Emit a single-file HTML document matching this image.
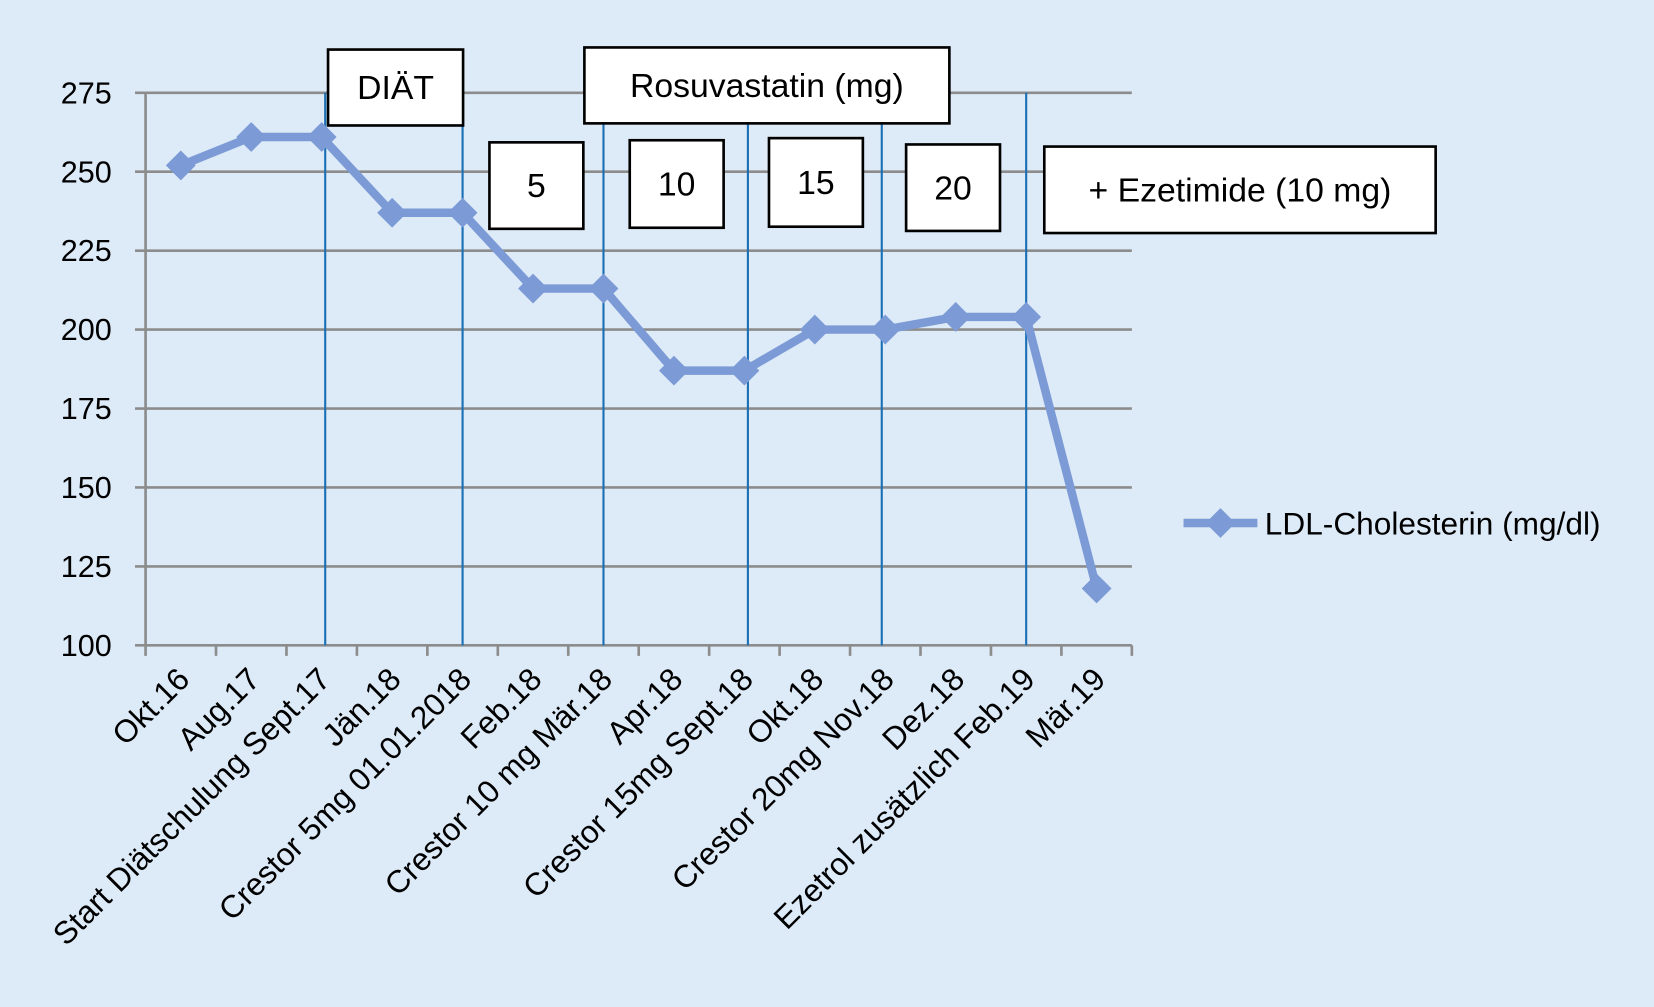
<!DOCTYPE html>
<html><head><meta charset="utf-8"><style>
html,body{margin:0;padding:0;background:#ddeaf7;}
svg{display:block;font-family:"Liberation Sans",sans-serif;}
</style></head><body>
<svg id="chart" width="1654" height="1007" viewBox="0 0 1568 955" preserveAspectRatio="none">
<rect x="0" y="0" width="1568" height="955" fill="#ddeaf7"/>
<g id="grid"></g><g id="vlines"></g><g id="series"></g><g id="axes"></g><g id="boxes"></g>
<g>
<line x1="1122" y1="496" x2="1192" y2="496" stroke="#7b9ad6" stroke-width="8"/>
<rect x="1147" y="486" width="20" height="20" fill="#7b9ad6" transform="rotate(45 1157 496)"/>
<text x="1199" y="507" font-size="30" fill="#000">LDL-Cholesterin (mg/dl)</text>
</g>
</svg>
<script>
const categories=["Okt.16","Aug.17","Start Diätschulung Sept.17","Jän.18","Crestor 5mg 01.01.2018","Feb.18","Crestor 10 mg Mär.18","Apr.18","Crestor 15mg Sept.18","Okt.18","Crestor 20mg Nov.18","Dez.18","Ezetrol zusätzlich Feb.19","Mär.19"];
const ldlValues=[252,261,261,237,237,213,213,187,187,200,200,204,204,118];
const yTicks=[100,125,150,175,200,225,250,275];
const markerLines=[2.55,4.5,6.5,8.55,10.45,12.5];
const boxLabels=["DIÄT","Rosuvastatin (mg)","5","10","15","20","+ Ezetimide (10 mg)"];
const NS="http://www.w3.org/2000/svg";
const L=138,R=1073,T=88,B=612,n=categories.length,step=(R-L)/n;
const x=i=>L+step*(i+0.5);
const y=v=>B-(v-100)/(275-100)*(B-T);
function mk(tag,attrs,parent,txt){const e=document.createElementNS(NS,tag);for(const k in attrs)e.setAttribute(k,attrs[k]);if(txt!=null)e.textContent=txt;document.getElementById(parent).appendChild(e);return e;}
yTicks.forEach(v=>{
 const g=mk('line',{x1:128,x2:R,y1:y(v),y2:y(v),stroke:'#8c8c8c','stroke-width':2.5},'grid');
 
 
 const t=mk('text',{x:106,y:y(v)+10,'text-anchor':'end','font-size':29},'axes',String(v));
 
 
});
const ax=mk('line',{x1:L,x2:L,y1:T,y2:B,stroke:'#8c8c8c','stroke-width':2.5},'axes');


for(let i=0;i<=n;i++){const tk=mk('line',{x1:L+step*i,x2:L+step*i,y1:B,y2:B+10,stroke:'#8c8c8c','stroke-width':2.5},'axes');
 
 }
categories.forEach((c,i)=>{
 const t=mk('text',{x:x(i)+10,y:B+34,'text-anchor':'end','font-size':30,transform:`rotate(-45 ${x(i)+10} ${B+34})`},'axes',c);
 
 
});
markerLines.forEach(p=>{
 const X=L+step*p;
 const l=mk('line',{x1:X,x2:X,y1:T,y2:B,stroke:'#1a6fb5','stroke-width':2},'vlines');
 
 
});
const pts=ldlValues.map((v,i)=>x(i)+','+y(v)).join(' ');
const pl=mk('polyline',{points:pts,fill:'none',stroke:'#7b9ad6','stroke-width':8,'stroke-linejoin':'round'},'series');


ldlValues.forEach((v,i)=>{
 const m=mk('rect',{x:x(i)-10,y:y(v)-10,width:20,height:20,fill:'#7b9ad6',transform:`rotate(45 ${x(i)} ${y(v)})`},'series');
 
 
});
const boxGeom=[[311,47,128,72],[554,45,346,72],[464,135,89,82],[597,133,89,83],[729,131,89,84],[859,137,89,82],[990,139,371,82]];
boxLabels.forEach((s,i)=>{
 const [bx,by,bw,bh]=boxGeom[i];
 const r=mk('rect',{x:bx,y:by,width:bw,height:bh,fill:'#fff',stroke:'#000','stroke-width':2.5},'boxes');
 
 
 const t=mk('text',{x:bx+bw/2,y:by+bh/2+11,'text-anchor':'middle','font-size':32},'boxes',s);
 
 
});
</script>
</body></html>
